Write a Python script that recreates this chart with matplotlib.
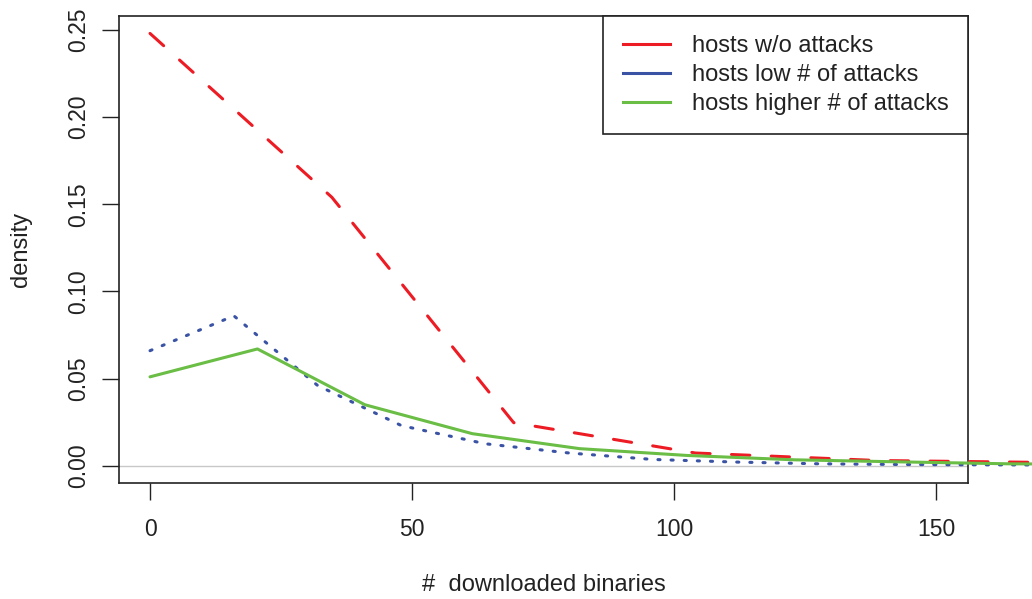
import matplotlib
matplotlib.use("Agg")
import matplotlib.pyplot as plt

# density of downloaded binaries per host group
no_attack_x = [0, 34.7, 69.4, 104.1, 138.8, 173.5]
no_attack_y = [0.248, 0.154, 0.0247, 0.0073, 0.0030, 0.0018]

low_attack_x = [0, 16, 32, 48, 64, 80, 96, 112, 128, 144, 160, 176]
low_attack_y = [0.066, 0.086, 0.046, 0.023, 0.0126, 0.0073, 0.0036,
                0.0021, 0.0011, 0.0007, 0.0005, 0.0004]

high_attack_x = [0, 20.5, 41, 61.5, 82, 102.5, 123, 143.5, 164, 184.5]
high_attack_y = [0.051, 0.067, 0.035, 0.0184, 0.0098, 0.0059, 0.0034,
                 0.0022, 0.0011, 0.0008]

labels = ["hosts w/o attacks", "hosts low # of attacks", "hosts higher # of attacks"]
colors = ["#ED1C24", "#3A53A4", "#6ABD45"]

plt.rcParams["font.family"] = ["Liberation Sans", "DejaVu Sans"]
plt.rcParams["font.size"] = 17

fig = plt.figure(figsize=(10.32, 5.99), dpi=100)
ax = fig.add_axes([119 / 1032, 1 - 483 / 599, (968 - 119) / 1032, (483 - 16) / 599])

ax.axhline(0, color="#c8c8c8", lw=1.0, zorder=1)

ax.plot(no_attack_x, no_attack_y, color=colors[0], lw=2.2, dashes=(6, 7),
        dash_capstyle="round", clip_on=False, zorder=3)
ax.plot(low_attack_x, low_attack_y, color=colors[1], lw=2.2, dashes=(0.7, 3.6),
        dash_capstyle="round", clip_on=False, zorder=3)
ax.plot(high_attack_x, high_attack_y, color=colors[2], lw=2.2,
        solid_capstyle="round", clip_on=False, zorder=3)

ax.set_xlim(-5.92, 156.1)
ax.set_ylim(-0.0099, 0.258)
ax.set_xticks([0, 50, 100, 150])
ax.set_xticklabels(["0", "50", "100", "150"], fontsize=16.5)
yt = [0, 0.05, 0.10, 0.15, 0.20, 0.25]
ax.set_yticks(yt)
ax.set_yticklabels(["%.2f" % v for v in yt], rotation=90, va="center",
                   fontsize=16.5)
ax.tick_params(axis="both", length=12, width=1.0, color="#222222",
               labelcolor="#222222")
ax.tick_params(axis="x", pad=13)
ax.tick_params(axis="y", pad=9)
for s in ax.spines.values():
    s.set_linewidth(1.2)
    s.set_color("#222222")

ax.set_xlabel("#  downloaded binaries", color="#222222", va="center")
ax.xaxis.set_label_coords(0.5, (483 - 585) / 467)
ax.set_ylabel("density", color="#222222", va="center")
ax.yaxis.set_label_coords((21 - 119) / 849, 0.5)

handles = [plt.Line2D([], [], color=c, lw=2.2) for c in colors]
leg = ax.legend(handles, labels, loc="upper right", borderaxespad=0,
                fancybox=False, edgecolor="#222222", framealpha=1,
                handlelength=2.0, handletextpad=0.93, labelspacing=0.29,
                borderpad=0.82)
leg.get_frame().set_linewidth(1.2)
for t in leg.get_texts():
    t.set_color("#222222")

fig.savefig("out.png", dpi=100)
